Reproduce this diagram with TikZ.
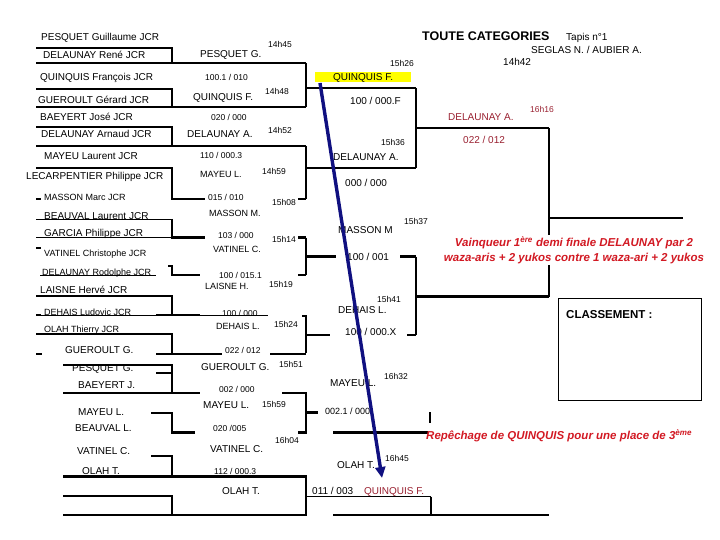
\documentclass[tikz,border=0pt]{standalone}
\usepackage{fontspec}
\setmainfont{Liberation Sans}
\usetikzlibrary{arrows.meta}
\definecolor{tapisred}{RGB}{153,32,48}
\definecolor{noteRed}{RGB}{210,25,35}
\definecolor{arrowblue}{RGB}{16,16,128}
\definecolor{hiyellow}{RGB}{255,255,0}
\tikzset{
  bar/.style={line width=2.7pt},
  fine/.style={line width=0.9pt},
  nm/.style={anchor=west, inner sep=0pt, text height=7.2pt, text depth=0pt, font=\fontsize{10}{12}\selectfont},
  sm/.style={anchor=west, inner sep=0pt, text height=6.5pt, text depth=0pt, font=\fontsize{9}{11}\selectfont},
  sc/.style={anchor=west, inner sep=0pt, text height=6.1pt, text depth=0pt, font=\fontsize{8.5}{10}\selectfont},
  note/.style={inner sep=1pt, text=noteRed, font=\fontsize{11.5}{15}\bfseries\itshape\selectfont}
}
\begin{document}
\begin{tikzpicture}[x=1pt, y=-1pt]
\useasboundingbox (0,0) rectangle (720,540);

\fill[hiyellow] (315,72) rectangle (411,82);

\draw[bar] (36,48) -- (172,48) -- (172,63);
\draw[bar] (36,63) -- (306,63);
\draw[bar] (36,89) -- (172,89) -- (172,107);
\draw[bar] (36,107) -- (306,107);
\draw[bar] (306,63) -- (306,107);
\draw[bar] (306,88) -- (416,88);
\draw[bar] (36,127) -- (172,127) -- (172,146);
\draw[bar] (36,146) -- (306,146);
\draw[bar] (36,168) -- (172,168) -- (172,199) -- (205,199);
\draw[bar] (298,199) -- (306,199);
\draw[bar] (36,199) -- (41,199);
\draw[bar] (306,146) -- (306,199);
\draw[bar] (306,168) -- (416,168);
\draw[bar] (416,88) -- (416,168);
\draw[bar] (416,128) -- (549,128);
\draw[fine] (36,219) -- (172,219);
\draw[fine] (36,237.7) -- (172,237.7);
\draw[bar] (172,219) -- (172,237.7) -- (205,237.7);
\draw[bar] (298,237.7) -- (306,237.7);
\draw[bar] (36,248) -- (41,248);
\draw[bar] (168,266) -- (172,266) -- (172,275) -- (200,275);
\draw[fine] (40,275) -- (156,275);
\draw[bar] (298,275) -- (306,275);
\draw[bar] (306,237.7) -- (306,275);
\draw[bar] (306,256.7) -- (336,256.7);
\draw[bar] (400,256.7) -- (416,256.7);
\draw[bar] (36,296) -- (172,296) -- (172,315);
\draw[bar] (36,315) -- (41,315);
\draw[fine] (41,315) -- (156,315);
\draw[bar] (156,315) -- (200,315);
\draw[fine] (200,315) -- (268,315);
\draw[bar] (302,316) -- (306,316) -- (306,353);
\draw[bar] (36,334) -- (172,334) -- (172,354);
\draw[bar] (36,354) -- (42,354);
\draw[bar] (156,354) -- (222,354);
\draw[bar] (270,354) -- (306,354);
\draw[bar] (306,335) -- (330,335);
\draw[bar] (407,335) -- (416,335);
\draw[bar] (416,256.7) -- (416,335);
\draw[bar] (416,296.7) -- (549,296.7);
\draw[bar] (549,128) -- (549,296.7);
\draw[bar] (549,218) -- (683,218);

\draw[bar] (63,365) -- (172,365) -- (172,393);
\draw[bar] (156,373) -- (172,373);
\draw[bar] (63,393) -- (200,393);
\draw[bar] (282,393) -- (306,393) -- (306,432.7) -- (298,432.7);
\draw[bar] (151,413) -- (172,413) -- (172,432.7) -- (195,432.7);
\draw[bar] (306,412.7) -- (318,412.7);
\draw[bar] (333,432.7) -- (428,432.7);
\draw[bar] (430,412) -- (430,423);
\draw[bar] (151,456) -- (172,456) -- (172,476.7);
\draw[bar] (63,476.7) -- (306,476.7) -- (306,515) -- (63,515);
\draw[bar] (63,496) -- (172,496) -- (172,515);
\draw[fine] (307,496.7) -- (431,496.7);
\draw[bar] (431,496.7) -- (431,515);
\draw[bar] (333,515) -- (549,515);

\draw[line width=0.9pt] (558,298) rectangle (701,400);

\node[nm] (pesquetGu) at (41,37) {PESQUET Guillaume JCR};
\node[nm] (delaunayRe) at (43,55) {DELAUNAY René JCR};
\node[nm] (quinquisFr) at (40,77) {QUINQUIS François JCR};
\node[nm] (gueroultGe) at (38,100) {GUEROULT Gérard JCR};
\node[nm] (baeyertJo) at (40,117) {BAEYERT José JCR};
\node[nm] (delaunayAr) at (41,134) {DELAUNAY Arnaud JCR};
\node[nm] (mayeuLa) at (44,156) {MAYEU Laurent JCR};
\node[nm] (lecarpPh) at (26,176) {LECARPENTIER Philippe JCR};
\node[sm] (massonMa) at (44,197) {MASSON Marc JCR};
\node[nm] (beauvalLa) at (44,216) {BEAUVAL Laurent JCR};
\node[nm] (garciaPh) at (44,233) {GARCIA Philippe JCR};
\node[sm] (vatinelCh) at (44,253) {VATINEL Christophe JCR};
\node[sm] (delaunayRo) at (42,272) {DELAUNAY Rodolphe JCR};
\node[nm] (laisneHe) at (40,290) {LAISNE Hervé JCR};
\node[sm] (dehaisLu) at (44,312) {DEHAIS Ludovic JCR};
\node[sm] (olahTh) at (44,329) {OLAH Thierry JCR};

\node[nm] (rGueroult) at (65,350) {GUEROULT G.};
\node[nm] (rPesquet) at (72,368) {PESQUET G.};
\node[nm] (rBaeyert) at (78,385) {BAEYERT J.};
\node[nm] (rMayeu) at (78,412) {MAYEU L.};
\node[nm] (rBeauval) at (75,428) {BEAUVAL L.};
\node[nm] (rVatinel) at (77,451) {VATINEL C.};
\node[nm] (rOlah) at (82,471) {OLAH T.};

\node[nm] (wPesquet) at (200,54) {PESQUET G.};
\node[sc] (sPesquet) at (205,77) {100.1 / 010};
\node[nm] (wQuinquis) at (193,97) {QUINQUIS F.};
\node[sc] (sQuinquis) at (211,117) {020 / 000};
\node[nm] (wDelaunay) at (187,134) {DELAUNAY A.};
\node[sc] (sDelaunay) at (200,155) {110 / 000.3};
\node[sm] (wMayeu) at (200,174) {MAYEU L.};
\node[sc] (sMayeu) at (208,197) {015 / 010};
\node[sm] (wMasson) at (209,213) {MASSON M.};
\node[sc] (sMasson) at (218,235) {103 / 000};
\node[sm] (wVatinel) at (213,249) {VATINEL C.};
\node[sc] (sVatinel) at (219,275) {100 / 015.1};
\node[sm] (wLaisne) at (205,286) {LAISNE H.};
\node[sc] (sLaisne) at (222,313) {100 / 000};
\node[sm] (wDehais) at (216,326) {DEHAIS L.};
\node[sc] (sDehais) at (225,350) {022 / 012};
\node[nm] (wGueroult) at (201,367) {GUEROULT G.};
\node[sc] (sGueroult) at (219,389) {002 / 000};
\node[nm] (wMayeuR) at (203,405) {MAYEU L.};
\node[sc] (sMayeuR) at (213,428) {020 /005};
\node[nm] (wVatinelR) at (210,449) {VATINEL C.};
\node[sc] (sVatinelR) at (214,471) {112 / 000.3};
\node[nm] (wOlahR) at (222,491) {OLAH T.};

\node[sc] (t1445) at (268,44) {14h45};
\node[sc] (t1448) at (265,91) {14h48};
\node[sc] (t1452) at (268,130) {14h52};
\node[sc] (t1459) at (262,171) {14h59};
\node[sc] (t1508) at (272,202) {15h08};
\node[sc] (t1514) at (272,239) {15h14};
\node[sc] (t1519) at (269,284) {15h19};
\node[sc] (t1524) at (274,324) {15h24};
\node[sc] (t1551) at (279,364) {15h51};
\node[sc] (t1559) at (262,404) {15h59};
\node[sc] (t1604) at (275,440) {16h04};
\node[sc] (t1526) at (390,63) {15h26};
\node[sc] (t1536) at (381,142) {15h36};
\node[sc] (t1537) at (404,221) {15h37};
\node[sc] (t1541) at (377,299) {15h41};
\node[sc] (t1632) at (384,376) {16h32};
\node[sc] (t1645) at (385,458) {16h45};

\node[nm] (qQuinquis) at (333,77) {QUINQUIS F.};
\node[nm] (qScoreA) at (350,101) {100 / 000.F};
\node[nm] (qDelaunay) at (333,157) {DELAUNAY A.};
\node[nm] (qScoreB) at (345,183) {000 / 000};
\node[nm] (qMasson) at (338,230) {MASSON M};
\node[nm] (qScoreC) at (347,257) {100 / 001};
\node[nm] (qDehais) at (338,310) {DEHAIS L.};
\node[nm] (qScoreD) at (345,332) {100 / 000.X};
\node[nm] (qMayeu) at (330,383) {MAYEU L.};
\node[sm] (qScoreE) at (325,411) {002.1 / 000};
\node[nm] (qOlah) at (337,465) {OLAH T.};
\node[nm] (qScoreF) at (312,491) {011 / 003};
\node[nm, text=tapisred] (bronze) at (364,491) {QUINQUIS F.};

\node[nm, font=\fontsize{12.5}{14}\bfseries\selectfont, text height=9pt] (titre) at (422,36) {TOUTE CATEGORIES};
\node[nm] (tapis) at (566,37) {Tapis n°1};
\node[nm] (arbitres) at (531,50) {SEGLAS N. / AUBIER A.};
\node[nm] (t1442) at (503,62) {14h42};
\node[nm, text=tapisred] (semiWin) at (448,117) {DELAUNAY A.};
\node[sc, text=tapisred] (t1616) at (530,109) {16h16};
\node[nm, text=tapisred] (semiScore) at (463,140) {022 / 012};
\node[note, fill=white, align=center] (vainqueur) at (574,250)
  {Vainqueur 1\textsuperscript{ère} demi finale DELAUNAY par 2\\waza-aris + 2 yukos contre 1 waza-ari + 2 yukos};
\node[nm, font=\fontsize{11.5}{14}\bfseries\selectfont, text height=8.3pt] (classement) at (566,314) {CLASSEMENT :};
\node[note, anchor=west, inner sep=0pt] (repechage) at (426,436) {Repêchage de QUINQUIS pour une place de 3\textsuperscript{ème}};

\coordinate (arrS) at (320,83);
\coordinate (arrE) at (382,478);
\draw[arrowblue, line width=3.4pt, -{Triangle[length=11pt,width=10pt]}] (arrS) -- (arrE);
\end{tikzpicture}
\end{document}
